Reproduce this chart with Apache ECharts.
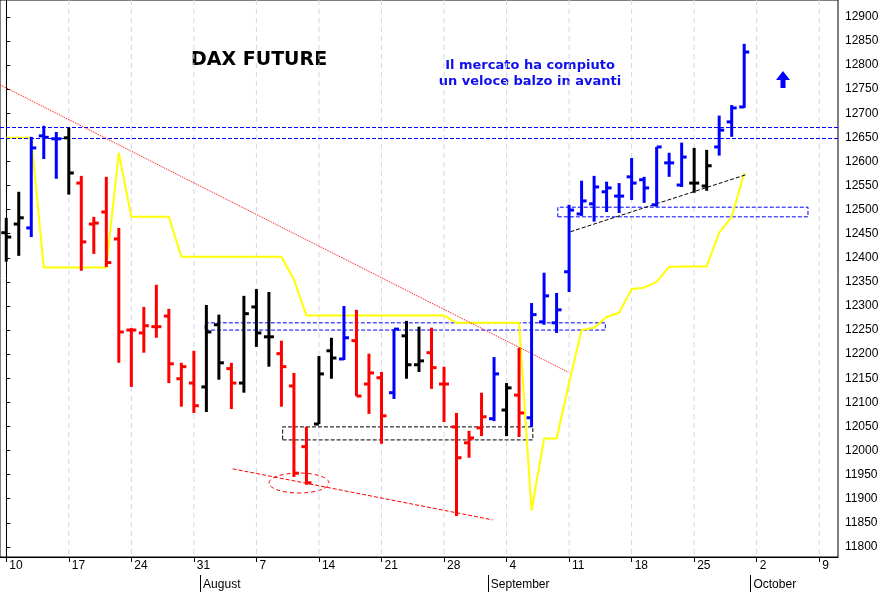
<!DOCTYPE html>
<meta charset="utf-8" />
<style>
html, body { margin: 0; padding: 0; background: #fff; }
#chart { width: 889px; height: 592px; }
</style>
<script src="https://cdn.jsdelivr.net/npm/echarts@6.0.0/dist/echarts.min.js"></script>
<div id="chart"></div>
<script>
// trading days from Mon 10 Jul (index 0) to Fri 29 Sep (index 59)
const opens  = [12452,12470,12462,12653,12647,12649,12555,12470,12495,12439,12250,12244,12257,12279,12149,12140,12132,12261,12170,12140,12298,12236,12201,12134,12008,12055,12207,12190,12228,12138,12151,12120,12238,12178,12203,12138,12049,12016,12047,12066,12084,12115,12068,12267,12265,12371,12491,12512,12537,12528,12568,12562,12510,12597,12551,12555,12549,12630,12682,12713];
const highs  = [12483,12537,12651,12674,12661,12670,12570,12485,12568,12462,12254,12298,12344,12294,12182,12207,12302,12282,12182,12321,12335,12329,12228,12161,12049,12196,12234,12300,12292,12201,12163,12252,12269,12257,12255,12174,12078,12041,12120,12194,12140,12213,12306,12369,12327,12510,12560,12570,12558,12555,12607,12568,12630,12618,12639,12628,12624,12695,12717,12844];
const lows   = [12392,12404,12443,12605,12564,12531,12373,12408,12381,12182,12132,12203,12234,12140,12091,12078,12080,12147,12086,12120,12215,12174,12091,11945,11929,12055,12149,12188,12113,12076,12014,12107,12149,12163,12128,12059,11864,11985,12030,12061,12030,12028,12049,12261,12244,12329,12487,12475,12495,12493,12520,12514,12506,12568,12547,12535,12539,12612,12651,12711];
const closes = [12443,12483,12628,12650,12647,12576,12433,12472,12390,12246,12250,12259,12257,12180,12174,12093,12246,12182,12140,12284,12244,12236,12174,11953,11933,12159,12192,12234,12113,12161,12072,12252,12178,12186,12172,12138,11985,12026,12070,12159,12130,12078,12282,12321,12292,12499,12518,12547,12545,12528,12555,12545,12630,12597,12609,12555,12591,12665,12711,12827];
const colors = 'kkbbbkrrrrrrrrrrkkrkkkrrrkkbrrrbkkrrrrrbkrbbbbbbbbbbbbbkkbbb';
const stopLine = [12649,12649,12649,12380,12380,12380,12380,12380,12380,12618,12485,12485,12485,12485,12402,12402,12402,12402,12402,12402,12402,12402,12402,12355,12280,12280,12280,12280,12280,12280,12280,12280,12280,12280,12280,12280,12265,12265,12265,12265,12265,12265,11875,12025,12025,12140,12250,12255,12277,12286,12335,12338,12350,12381,12382,12382,12382,12452,12485,12576];
const weekTicks = [0,5,10,15,20,25,30,35,40,45,50,55,60,65];
const weekLabels = ['10','17','24','31','7','14','21','28','4','11','18','25','2','9'];
const monthTicks = [15.5,38.5,59.5];
const monthLabels = ['August','September','October'];
const priceTicks = [];
for (let p = 11800; p <= 12900; p += 50) priceTicks.push(p);

const palette = { k: '#000000', r: '#ff0000', b: '#0000ff' };
const ohlc = opens.map((o, i) => [i, o, closes[i], lows[i], highs[i], i]);

const chart = echarts.init(document.getElementById('chart'));
const dash = (c, t) => ({ color: c, type: t || 'dashed', width: 1 });
const axisFont = { color: '#000', fontSize: 12, fontFamily: 'Arial' };

chart.setOption({
  animation: false,
  backgroundColor: '#fff',
  grid: { left: 0, right: 51, top: 0, bottom: 35, show: true, borderColor: '#000', borderWidth: 1 },
  xAxis: [{
    type: 'value', min: -0.5, max: 66.5,
    splitLine: { show: false },
    axisLine: { lineStyle: { color: '#000' } },
    axisTick: { customValues: weekTicks, length: 5, lineStyle: { color: '#000' } },
    axisLabel: Object.assign({
      customValues: weekTicks, align: 'left', margin: 3, padding: [0, 0, 0, 3],
      formatter: v => weekLabels[weekTicks.indexOf(v)]
    }, axisFont)
  }, {
    type: 'value', min: -0.5, max: 66.5, position: 'bottom', offset: 18,
    splitLine: { show: false },
    axisLine: { show: false },
    axisTick: { customValues: monthTicks, length: 18, lineStyle: { color: '#000' } },
    axisLabel: Object.assign({
      customValues: monthTicks, align: 'left', margin: 4, padding: [0, 0, 0, 3],
      formatter: v => monthLabels[monthTicks.indexOf(v)]
    }, axisFont)
  }],
  yAxis: {
    type: 'value', position: 'right', min: 11779, max: 12935,
    splitLine: { show: false },
    axisLine: { show: true, lineStyle: { color: '#000' } },
    axisTick: { customValues: priceTicks, length: 4, lineStyle: { color: '#000' } },
    axisLabel: Object.assign({ customValues: priceTicks, margin: 7, formatter: v => String(v) }, axisFont)
  },
  series: [
    {
      // weekly grid lines, drawn behind everything
      type: 'custom', silent: true, z: 0,
      data: weekTicks.map(v => [v]),
      encode: { x: 0 },
      renderItem: (params, api) => {
        const p = api.coord([api.value(0), 12000]);
        const cs = params.coordSys;
        return {
          type: 'line',
          shape: { x1: p[0], y1: cs.y, x2: p[0], y2: cs.y + cs.height },
          style: { stroke: '#d4d4ec', lineWidth: 1, lineDash: [5, 4] }
        };
      }
    },
    {
      type: 'line', data: stopLine.map((v, i) => [i, v]), symbol: 'none',
      lineStyle: { color: '#ffff00', width: 2 }, z: 2,
      markLine: {
        silent: true, symbol: 'none', label: { show: false },
        data: [
          { yAxis: 12670, lineStyle: dash('#0000ff') },
          { yAxis: 12648, lineStyle: dash('#0000ff') },
          [{ coord: [-0.5, 12759], lineStyle: dash('#ff0000', 'dotted') }, { coord: [44.9, 12163] }],
          [{ coord: [18.1, 11962], lineStyle: dash('#ff0000') }, { coord: [38.9, 11856] }],
          [{ coord: [45.1, 12454], lineStyle: dash('#000000') }, { coord: [59.1, 12572] }]
        ]
      },
      markArea: {
        silent: true,
        data: [
          [{ coord: [15.9, 12250], itemStyle: { color: 'transparent', borderColor: '#0000ff', borderWidth: 1, borderType: 'dashed' } }, { coord: [47.9, 12265] }],
          [{ coord: [44.1, 12485], itemStyle: { color: 'transparent', borderColor: '#0000ff', borderWidth: 1, borderType: 'dashed' } }, { coord: [64.1, 12505] }],
          [{ coord: [22.1, 12022], itemStyle: { color: 'transparent', borderColor: '#000000', borderWidth: 1, borderType: 'dashed' } }, { coord: [42.1, 12049] }]
        ]
      }
    },
    {
      type: 'custom', z: 5,
      data: ohlc,
      encode: { x: 0, y: [1, 2, 3, 4] },
      renderItem: (params, api) => {
        const i = api.value(0);
        const c = palette[colors[api.value(5)]];
        const o = api.coord([i, api.value(1)]);
        const cl = api.coord([i, api.value(2)]);
        const lo = api.coord([i, api.value(3)]);
        const hi = api.coord([i, api.value(4)]);
        const st = { stroke: c, lineWidth: 3 };
        return {
          type: 'group',
          children: [
            { type: 'line', shape: { x1: hi[0], y1: hi[1], x2: lo[0], y2: lo[1] }, style: st },
            { type: 'line', shape: { x1: o[0] - 5, y1: o[1], x2: o[0], y2: o[1] }, style: st },
            { type: 'line', shape: { x1: cl[0], y1: cl[1], x2: cl[0] + 5, y2: cl[1] }, style: st }
          ]
        };
      }
    }
  ],
  graphic: [
    { type: 'text', left: 191, top: 51, style: { text: 'DAX FUTURE', font: 'bold 19px "DejaVu Sans"', fill: '#000' } },
    { type: 'text', x: 530, y: 58, style: { text: 'Il mercato ha compiuto\nun veloce balzo in avanti', font: 'bold 13px "DejaVu Sans"', fill: '#1010ee', align: 'center', lineHeight: 16 } },
    { type: 'polygon', shape: { points: [[783, 71], [776, 80], [780.5, 80], [780.5, 88], [785.5, 88], [785.5, 80], [790, 80]] }, style: { fill: '#0000ff' } },
    { type: 'ellipse', shape: { cx: 299, cy: 483, rx: 30, ry: 10 }, style: { fill: 'none', stroke: '#ff0000', lineWidth: 1, lineDash: [4, 3] } }
  ]
});
</script>
